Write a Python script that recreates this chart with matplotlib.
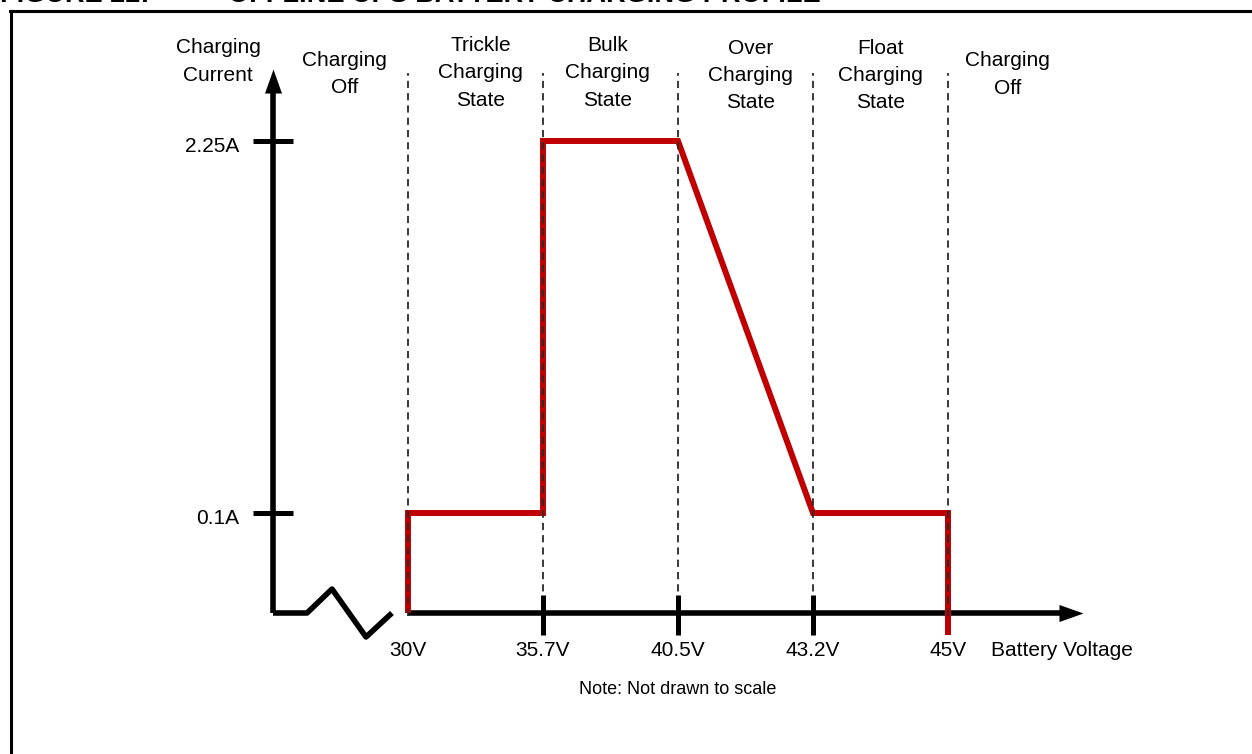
import matplotlib.pyplot as plt
from matplotlib.lines import Line2D

plt.rcParams["font.family"] = ["Liberation Sans", "DejaVu Sans"]

# data (chart is "not drawn to scale": values map to evenly spaced slots)
VOLTAGES = [30, 35.7, 40.5, 43.2, 45]
VOLT_LABELS = ["30V", "35.7V", "40.5V", "43.2V", "45V"]
CURRENTS = [0.1, 2.25]
CURRENT_LABELS = ["0.1A", "2.25A"]
PROFILE_V = [30, 30, 35.7, 35.7, 40.5, 43.2, 45, 45]
PROFILE_I = [0, 0.1, 0.1, 2.25, 2.25, 0.1, 0.1, 0]
STATES = [
    "Charging\nOff",
    "Trickle\nCharging\nState",
    "Bulk\nCharging\nState",
    "Over\nCharging\nState",
    "Float\nCharging\nState",
    "Charging\nOff",
]

# layout
LEVEL_H = {0: 0.0, 0.1: 1.0, 2.25: 4.72}
STATE_X = [-0.47, 0.54, 1.48, 2.54, 3.5, 4.44]
STATE_Y = [5.39, 5.40, 5.40, 5.375, 5.375, 5.385]
RED = "#C00000"
AX_LW = 4.0
FS = 15


def vx(v):
    return VOLTAGES.index(v)


def ih(i):
    return LEVEL_H[i]


fig = plt.figure(figsize=(12.52, 7.54), dpi=100)
ax = fig.add_axes([0, 0, 1, 1])
ax.set_xlim(-408 / 135, (1252 - 408) / 135)
ax.set_ylim((613 - 754) / 100, 613 / 100)
ax.axis("off")

# frame and clipped title
fig.add_artist(Line2D([10 / 1252, 1], [1 - 10.5 / 754] * 2, color="black", lw=2.2))
fig.add_artist(Line2D([10.5 / 1252] * 2, [0, 1 - 10.5 / 754], color="black", lw=2.2))
fig.text(0.0, 1 - 2 / 754, "FIGURE 22:", fontsize=19.5, fontweight="bold", va="baseline")
fig.text(228 / 1252, 1 - 2 / 754, "OFFLINE UPS BATTERY CHARGING PROFILE",
         fontsize=19.5, fontweight="bold", va="baseline")

# y axis with arrow
ax.plot([-1, -1], [0, 5.2], color="black", lw=AX_LW, solid_capstyle="butt", zorder=3)
head_up = [(-8.5, -24), (8.5, -24), (0, 0)]
ax.plot([-1], [5.44], marker=head_up, markersize=34.6, color="black", mew=0, zorder=3)

# x axis with break and arrow
ax.plot([-1, -0.748, -0.563, -0.311, -0.119], [0, 0, 0.24, -0.24, 0],
        color="black", lw=AX_LW, solid_capstyle="butt", zorder=3)
ax.plot([0, 4.85], [0, 0], color="black", lw=AX_LW, solid_capstyle="butt", zorder=3)
head_right = [(-24, -8.5), (-24, 8.5), (0, 0)]
ax.plot([5.0], [0], marker=head_right, markersize=34.6, color="black", mew=0, zorder=3)

# dashed state boundaries
for v in VOLTAGES:
    ax.plot([vx(v), vx(v)], [-0.03, 5.4], color="#2a2a2a", lw=1.3,
            dashes=(4, 2.8), zorder=5)

# y ticks
for c, lab in zip(CURRENTS, CURRENT_LABELS):
    ax.plot([-1], [ih(c)], marker="_", markersize=28.5, mew=3.6, color="black", zorder=3)
    ax.text(-1.25, ih(c) - 0.05, lab, fontsize=FS, ha="right", va="center")

# x ticks
for v in VOLTAGES[1:4]:
    ax.plot([vx(v)], [-0.02], marker="|", markersize=28.5, mew=3.6, color="black", zorder=6)
ax.plot([vx(45)], [-0.02], marker="|", markersize=28.5, mew=4.3, color=RED, zorder=4)
for v, lab in zip(VOLTAGES, VOLT_LABELS):
    ax.text(vx(v), -0.38, lab, fontsize=FS, ha="center", va="center")

# charging profile
ax.plot([vx(v) for v in PROFILE_V], [ih(i) for i in PROFILE_I],
        color=RED, lw=4.3, solid_joinstyle="miter", solid_capstyle="butt", zorder=4)

# labels
for x, y, s in zip(STATE_X, STATE_Y, STATES):
    ax.text(x, y, s, fontsize=FS, ha="center", va="center", linespacing=1.55)
ax.text(-1.407, 5.515, "Charging\nCurrent", fontsize=FS, ha="center", va="center",
        linespacing=1.55)
ax.text(4.32, -0.37, "Battery Voltage", fontsize=FS, ha="left", va="center")
ax.text(2.0, -0.77, "Note: Not drawn to scale", fontsize=13, ha="center", va="center")

fig.savefig("out.png", dpi=100, facecolor="white")
